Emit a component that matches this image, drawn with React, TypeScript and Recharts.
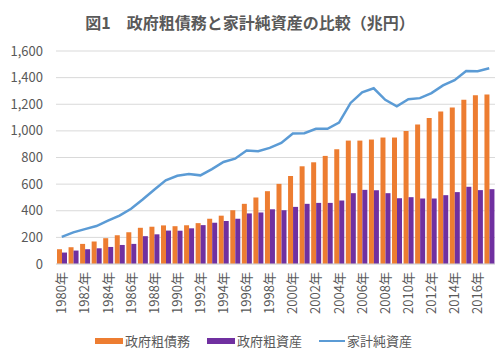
import React from "react";
import {
  ComposedChart,
  Bar,
  Line,
  XAxis,
  YAxis,
  CartesianGrid,
  Legend,
} from "recharts";

// 1980年〜2017年
const years = [
  "1980年", "1981年", "1982年", "1983年", "1984年", "1985年", "1986年", "1987年",
  "1988年", "1989年", "1990年", "1991年", "1992年", "1993年", "1994年", "1995年",
  "1996年", "1997年", "1998年", "1999年", "2000年", "2001年", "2002年", "2003年",
  "2004年", "2005年", "2006年", "2007年", "2008年", "2009年", "2010年", "2011年",
  "2012年", "2013年", "2014年", "2015年", "2016年", "2017年",
];

// 政府粗債務 (兆円)
const govDebt = [
  111, 126, 151, 169, 194, 216, 239, 272, 280, 290, 284, 291, 307, 340, 363, 404,
  452, 499, 547, 602, 661, 734, 764, 812, 862, 927, 927, 935, 950, 950, 1000, 1048,
  1096, 1146, 1176, 1234, 1267, 1274,
];

// 政府粗資産 (兆円)
const govAssets = [
  86, 101, 111, 118, 128, 143, 151, 209, 223, 251, 250, 268, 292, 310, 323, 340,
  380, 387, 411, 404, 429, 452, 459, 459, 477, 532, 557, 554, 532, 494, 502, 492,
  492, 517, 540, 580, 555, 562,
];

// 家計純資産 (兆円)
const householdNet = [
  204, 238, 262, 285, 325, 364, 415, 484, 558, 628, 663, 676, 666, 713, 766, 791,
  852, 847, 872, 910, 980, 982, 1016, 1016, 1062, 1210, 1290, 1320, 1233, 1185, 1238, 1246,
  1284, 1342, 1381, 1449, 1448, 1471,
];

const yTicks = [0, 200, 400, 600, 800, 1000, 1200, 1400, 1600];

const data = years.map((year, i) => ({
  year,
  debt: govDebt[i],
  assets: govAssets[i],
  household: householdNet[i],
}));

const FONT = '"Noto Sans CJK JP", "Noto Sans", sans-serif';
const GRAY = "#595959";

const YearTick = ({ x, y, payload }: any) => (
  <text
    x={x}
    y={y}
    dy="0.35em"
    transform={`rotate(-90 ${x} ${y})`}
    textAnchor="end"
    fill={GRAY}
    fontSize={13}
    fontFamily={FONT}
  >
    {payload.value}
  </text>
);

const legendItems = [
  { label: "政府粗債務", color: "#ED7D31", kind: "rect" },
  { label: "政府粗資産", color: "#7030A0", kind: "rect" },
  { label: "家計純資産", color: "#5B9BD5", kind: "line" },
];

const renderLegend = () => (
  <div
    style={{
      display: "flex",
      alignItems: "center",
      paddingLeft: 95,
      paddingTop: 10,
      fontFamily: FONT,
      fontSize: 13,
      color: GRAY,
      lineHeight: "14px",
    }}
  >
    {legendItems.map((it, i) => (
      <div key={it.label} style={{ display: "flex", alignItems: "center", marginRight: i < 2 ? 17 : 0 }}>
        {it.kind === "rect" ? (
          <span style={{ display: "inline-block", width: 28, height: 6, background: it.color }} />
        ) : (
          <span style={{ display: "inline-block", width: 26, height: 2, background: it.color }} />
        )}
        <span style={{ marginLeft: 2 }}>{it.label}</span>
      </div>
    ))}
  </div>
);

export default function App() {
  return (
    <div style={{ position: "relative", width: 500, height: 349, background: "#fff" }}>
      <style>{`body { margin: 0; }`}</style>
      <div
        style={{
          position: "absolute",
          top: 10,
          left: 0,
          width: 500,
          textAlign: "center",
          fontFamily: FONT,
          fontWeight: "bold",
          fontSize: 16,
          lineHeight: "24px",
          color: GRAY,
        }}
      >
        図1　政府粗債務と家計純資産の比較（兆円）
      </div>
      <ComposedChart
        width={500}
        height={349}
        data={data}
        margin={{ top: 51, right: 5, bottom: 0, left: 0 }}
        barCategoryGap={1}
        barGap={0}
      >
        <CartesianGrid vertical={false} stroke="#D9D9D9" />
        <XAxis
          dataKey="year"
          interval={1}
          tickLine={false}
          axisLine={{ stroke: "#D9D9D9" }}
          height={60}
          tick={<YearTick />}
        />
        <YAxis
          domain={[0, 1600]}
          ticks={yTicks}
          width={56}
          axisLine={false}
          tickLine={false}
          tickMargin={7}
          tickFormatter={(v: number) => v.toLocaleString("en-US")}
          tick={{ fill: GRAY, fontSize: 13, fontFamily: FONT }}
        />
        <Legend verticalAlign="bottom" height={25} content={renderLegend} />
        <Bar dataKey="debt" name="政府粗債務" fill="#ED7D31" isAnimationActive={false} />
        <Bar dataKey="assets" name="政府粗資産" fill="#7030A0" isAnimationActive={false} />
        <Line
          dataKey="household"
          name="家計純資産"
          type="linear"
          stroke="#5B9BD5"
          strokeWidth={2.5}
          dot={false}
          isAnimationActive={false}
        />
      </ComposedChart>
    </div>
  );
}
